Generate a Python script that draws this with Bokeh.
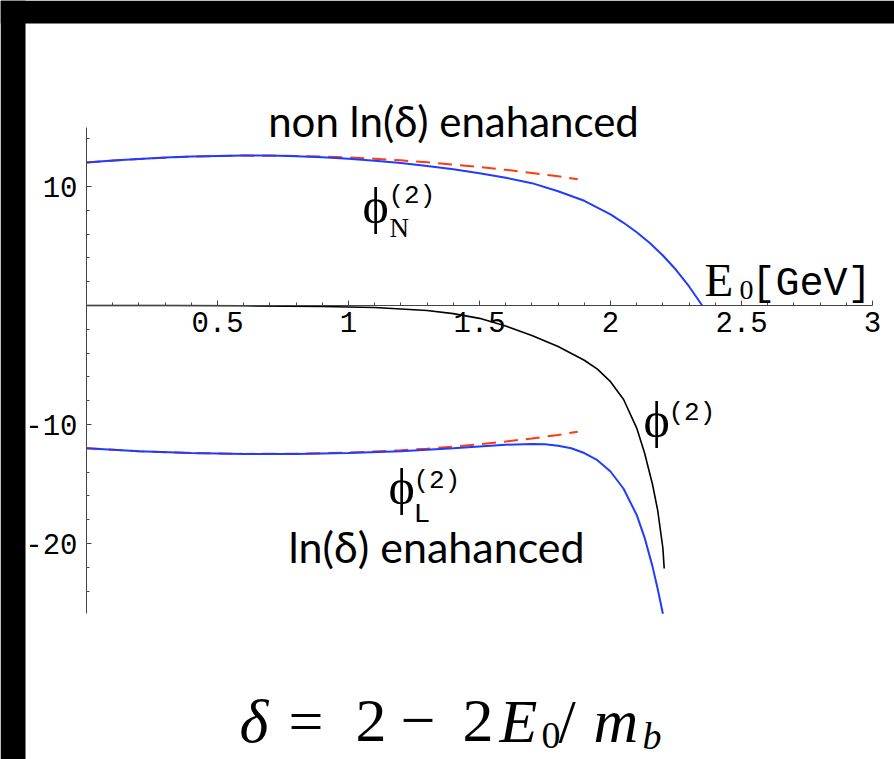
from bokeh.plotting import figure
from bokeh.models import Range1d, FixedTicker, Label, BoxAnnotation
from bokeh.embed import file_html
from bokeh.resources import INLINE

# ---- data: photon energy cut E0 [GeV] and the second-order coefficients ----
# phi_N^(2): non ln(delta) enhanced part (full, solid blue)
e_phi_n = [0.0, 0.1, 0.2, 0.3, 0.4, 0.5, 0.6, 0.7, 0.8, 0.9, 1.0, 1.1, 1.2, 1.3,
           1.4, 1.5, 1.6, 1.7, 1.8, 1.9, 2.0, 2.05, 2.1, 2.15, 2.2, 2.25, 2.3, 2.35]
phi_n = [12.02, 12.18, 12.32, 12.43, 12.52, 12.57, 12.6, 12.6, 12.55, 12.46, 12.33,
         12.17, 11.97, 11.73, 11.45, 11.12, 10.74, 10.28, 9.6, 8.8, 7.65, 6.95,
         6.15, 5.25, 4.2, 3.0, 1.6, 0.0]

# phi_N^(2): small-delta approximation (dashed red)
e_phi_n_approx = [0.0, 0.2, 0.4, 0.6, 0.8, 1.0, 1.1, 1.2, 1.3, 1.4, 1.5, 1.6, 1.7, 1.8, 1.875]
phi_n_approx = [12.02, 12.32, 12.52, 12.6, 12.57, 12.45, 12.34, 12.2, 12.03, 11.84,
                11.63, 11.4, 11.14, 10.86, 10.6]

# phi^(2): total (solid black)
e_phi = [0.0, 0.3, 0.6, 0.9, 1.1, 1.3, 1.4, 1.5, 1.6, 1.7, 1.8, 1.9, 1.95, 2.0,
         2.05, 2.1, 2.13, 2.16, 2.18, 2.2, 2.205]
phi = [0.0, -0.005, -0.02, -0.08, -0.17, -0.42, -0.68, -1.08, -1.72, -2.52, -3.45,
       -4.6, -5.35, -6.4, -7.9, -10.3, -12.4, -15.0, -17.2, -20.4, -22.1]

# phi_L^(2): ln(delta) enhanced part (full, solid blue)
e_phi_l = [0.0, 0.2, 0.4, 0.6, 0.8, 1.0, 1.2, 1.4, 1.5, 1.6, 1.7, 1.75, 1.8, 1.85,
           1.9, 1.95, 2.0, 2.05, 2.1, 2.13, 2.16, 2.18, 2.2]
phi_l = [-12.0, -12.25, -12.4, -12.47, -12.47, -12.4, -12.25, -12.0, -11.84, -11.7,
         -11.63, -11.66, -11.78, -12.0, -12.4, -13.0, -13.95, -15.4, -17.6, -19.5,
         -21.9, -23.8, -25.9]

# phi_L^(2): small-delta approximation (dashed red)
e_phi_l_approx = [0.0, 0.2, 0.4, 0.6, 0.8, 1.0, 1.2, 1.3, 1.4, 1.5, 1.6, 1.7, 1.8, 1.875]
phi_l_approx = [-12.0, -12.25, -12.4, -12.47, -12.45, -12.36, -12.17, -12.03, -11.86,
                -11.66, -11.43, -11.17, -10.88, -10.6]

# axis ticks
x_ticks = [0.5, 1.0, 1.5, 2.0, 2.5, 3.0]
x_tick_labels = ["0.5", "1", "1.5", "2", "2.5", "3"]
x_minor = [0.1, 0.2, 0.3, 0.4, 0.6, 0.7, 0.8, 0.9, 1.1, 1.2, 1.3, 1.4, 1.6, 1.7, 1.8,
           1.9, 2.1, 2.2, 2.3, 2.4, 2.6, 2.7, 2.8, 2.9]
y_ticks = [-20, -10, 10]
y_tick_labels = ["-20", "-10", "10"]
y_minor = [-24, -22, -18, -16, -14, -12, -8, -6, -4, -2, 2, 4, 6, 8, 12, 14]

# ---- layout: the frame fills the whole canvas, axes cross at the origin ----
W, H = 894, 759
X0_PX, X_SCALE = 86.0, 262.0    # canvas x of E0 = 0, pixels per GeV
Y0_PX, Y_SCALE = 305.0, 11.9    # canvas y of phi = 0, pixels per unit


def dx(px):
    return (px - X0_PX) / X_SCALE


def dy(py):
    return (Y0_PX - py) / Y_SCALE


p = figure(width=W, height=H, output_backend="svg", toolbar_location=None,
           x_range=Range1d(dx(0), dx(W)), y_range=Range1d(dy(H), dy(0)),
           min_border=0)
p.title.visible = False
p.outline_line_color = None
p.grid.visible = False
p.background_fill_color = "white"
p.border_fill_color = "white"

axis_color = "#444444"
for ax in (p.xaxis[0], p.yaxis[0]):
    ax.fixed_location = 0
    ax.axis_line_color = axis_color
    ax.axis_line_width = 1
    ax.major_tick_line_color = axis_color
    ax.minor_tick_line_color = axis_color
    ax.major_tick_in = 5
    ax.major_tick_out = 0
    ax.minor_tick_in = 3
    ax.minor_tick_out = 0
    ax.major_label_text_font = "Liberation Mono"
    ax.major_label_text_font_size = "29px"
    ax.major_label_text_color = "black"

p.xaxis[0].bounds = (0, 3)
p.xaxis[0].ticker = FixedTicker(ticks=x_ticks, minor_ticks=x_minor)
p.xaxis[0].major_label_overrides = dict(zip(x_ticks, x_tick_labels))
p.xaxis[0].major_label_standoff = 6

p.yaxis[0].bounds = (-25.9, 15.0)
p.yaxis[0].ticker = FixedTicker(ticks=y_ticks, minor_ticks=y_minor)
p.yaxis[0].major_label_overrides = dict(zip(y_ticks, y_tick_labels))
p.yaxis[0].major_label_standoff = 9

# ---- curves ----
blue = "#1f3cff"
red = "#ff3a10"
p.line(e_phi_n_approx, phi_n_approx, line_color=red, line_width=2, line_dash="14 8")
p.line(e_phi_l_approx, phi_l_approx, line_color=red, line_width=2, line_dash="14 8")
p.line(e_phi, phi, line_color="black", line_width=1.6)
p.line(e_phi_n, phi_n, line_color=blue, line_width=2)
p.line(e_phi_l, phi_l, line_color=blue, line_width=2)

# ---- text ----
# labels are anchored a little below the requested baseline; the lift
# per font (fraction of the font size) compensates for it
LIFT = {"Lato": 0.40, "Liberation Serif": 0.33, "Liberation Mono": 0.28}


def put(text, px, py, size, font, style="normal", align="left"):
    base = py - LIFT[font] * size
    p.add_layout(Label(x=dx(px), y=dy(base), text=text, text_font=font,
                       text_font_size=f"{size}px", text_font_style=style,
                       text_align=align, text_baseline="alphabetic",
                       text_color="black"))


put("non ln(\u03b4) enahanced", 453, 137, 42, "Lato", align="center")
put("ln(\u03b4) enahanced", 436, 563, 43, "Lato", align="center")

PHI = "\u03d5"
# phi_N^(2)
put(PHI, 362, 222, 50, "Liberation Serif")
put("(2)", 388, 203, 26, "Liberation Mono")
put("N", 389, 236, 27, "Liberation Serif")
# phi_L^(2)
put(PHI, 388, 503, 50, "Liberation Serif")
put("(2)", 413, 488, 26, "Liberation Mono")
put("L", 413, 522, 28, "Liberation Mono")
# phi^(2)
put(PHI, 643, 436, 50, "Liberation Serif")
put("(2)", 668, 420, 26, "Liberation Mono")

# axis title E0[GeV]
put("E", 704, 295, 47, "Liberation Serif")
put("0", 739, 299, 28, "Liberation Serif")
put("[GeV]", 751, 295, 40, "Liberation Mono")

# definition of delta
fs, fsub = 62, 38
put("\u03b4", 239, 741, fs, "Liberation Serif", "italic")
put("=", 288, 741, fs, "Liberation Serif")
put("2", 355, 741, fs, "Liberation Serif")
put("\u2212", 400, 741, fs, "Liberation Serif")
put("2", 462, 741, fs, "Liberation Serif")
put("E", 499, 741, fs, "Liberation Serif", "italic")
put("0", 541, 748, fsub, "Liberation Serif")
put("/", 558, 741, fs, "Liberation Serif")
put("m", 593, 741, fs, "Liberation Serif", "italic")
put("b", 642, 748, fsub, "Liberation Serif", "italic")

# black frame strips along the left and top edges
p.add_layout(BoxAnnotation(right=dx(25), fill_color="black", fill_alpha=1.0,
                           line_color=None))
p.add_layout(BoxAnnotation(bottom=dy(23), fill_color="black", fill_alpha=1.0,
                           line_color=None))

open("out.html", "w").write(file_html(p, INLINE))
